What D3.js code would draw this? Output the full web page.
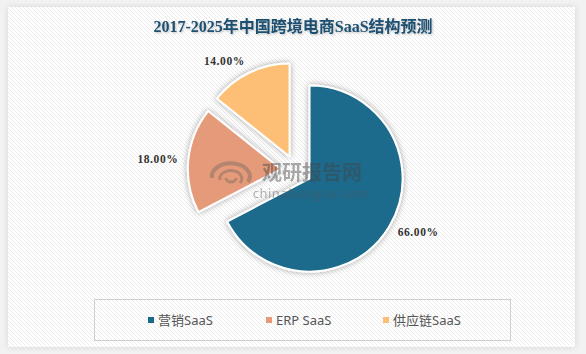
<!DOCTYPE html>
<html>
<head>
<meta charset="utf-8">
<script src="https://cdn.jsdelivr.net/npm/d3@7"></script>
<style>
html,body{margin:0;padding:0;background:#f2f2f2;}
svg{display:block;}
</style>
</head>
<body>
<svg id="chart" width="586" height="354"></svg>
<script>
const titleText = "2017-2025年中国跨境电商SaaS结构预测";
const categories = ["营销SaaS", "ERP SaaS", "供应链SaaS"];
const values = [66, 18, 14];
const colors = ["#1b6a8c", "#e59a7a", "#fdbf74"];

const W = 586, H = 354;
const svg = d3.select("#chart");
const defs = svg.append("defs");

// stripe pattern
const pat = defs.append("pattern").attr("id", "stripes")
  .attr("patternUnits", "userSpaceOnUse").attr("width", 4).attr("height", 4);
pat.append("rect").attr("width", 4).attr("height", 4).attr("fill", "#ffffff");
pat.append("path").attr("d", "M0,0 L4,4 M-1,3 L1,5 M3,-1 L5,1")
  .attr("stroke", "#ececec").attr("stroke-width", 1);

const frameShadow = defs.append("filter").attr("id", "frameShadow")
  .attr("x", "-5%").attr("y", "-5%").attr("width", "110%").attr("height", "110%");
frameShadow.append("feDropShadow").attr("dx", 0).attr("dy", 0)
  .attr("stdDeviation", 3).attr("flood-color", "#000").attr("flood-opacity", 0.12);

const sliceShadow = defs.append("filter").attr("id", "sliceShadow")
  .attr("x", "-30%").attr("y", "-30%").attr("width", "160%").attr("height", "160%");
sliceShadow.append("feDropShadow").attr("dx", 0).attr("dy", 0)
  .attr("stdDeviation", 3).attr("flood-color", "#000").attr("flood-opacity", 0.35);

const titleShadow = defs.append("filter").attr("id", "titleShadow");
titleShadow.append("feDropShadow").attr("dx", 1).attr("dy", 1)
  .attr("stdDeviation", 0.8).attr("flood-color", "#000").attr("flood-opacity", 0.25);

// background
svg.append("rect").attr("width", W).attr("height", H).attr("fill", "#f2f2f2");
svg.append("rect").attr("x", 8).attr("y", 7).attr("width", 567).attr("height", 340)
  .attr("fill", "url(#stripes)").attr("filter", "url(#frameShadow)");

// title
svg.append("text").attr("x", 293).attr("y", 26)
  .attr("text-anchor", "middle").attr("dominant-baseline", "central")
  .attr("font-family", "'Liberation Serif','Noto Sans CJK SC',serif")
  .attr("font-weight", "bold").attr("font-size", 16)
  .attr("fill", "#1d4f70").attr("filter", "url(#titleShadow)")
  .text(titleText);

// pie
const cx = 296.3, cy = 170.5, R = 93, off = 15.5;
const pie = d3.pie().sort(null).value(d => d)
  .startAngle(0).endAngle(2 * Math.PI);
const arcs = pie(values);
const arcGen = d3.arc().innerRadius(0).outerRadius(R);

const g = svg.append("g").attr("transform", `translate(${cx},${cy})`);
const sliceG = g.selectAll("g.slice").data(arcs).enter().append("g")
  .attr("class", "slice")
  .attr("transform", d => {
    const a = (d.startAngle + d.endAngle) / 2;
    return `translate(${off * Math.sin(a)},${-off * Math.cos(a)})`;
  });
sliceG.append("path").attr("d", arcGen)
  .attr("fill", (d, i) => colors[i])
  .attr("stroke", "#ffffff").attr("stroke-width", 2)
  .attr("stroke-linejoin", "round")
  .attr("filter", "url(#sliceShadow)");

// labels
const fmt = d3.format(".2f");
g.selectAll("text.lbl").data(arcs).enter().append("text")
  .attr("class", "lbl")
  .each(function (d) {
    const a = (d.startAngle + d.endAngle) / 2;
    const rr = off + R + 10;
    const x = rr * Math.sin(a), y = -rr * Math.cos(a);
    d3.select(this).attr("x", x).attr("y", y - (Math.cos(a) > 0.8 ? 3 : 0))
      .attr("text-anchor", Math.sin(a) >= 0 ? "start" : "end");
  })
  .attr("dominant-baseline", "central")
  .attr("font-family", "'Liberation Serif',serif")
  .attr("font-weight", "bold").attr("font-size", 11.5)
  .attr("letter-spacing", 0.6)
  .attr("fill", "#333")
  .text(d => fmt(d.data) + "%");

// watermark
const wm = svg.append("g").attr("opacity", 0.45);
wm.append("path")
  .attr("d", "M212,178 A19,13 0 1,1 248,182")
  .attr("fill", "none").attr("stroke", "#7a6a60").attr("stroke-width", 4);
wm.append("path")
  .attr("d", "M220,180 A11,8 0 1,1 240,183 M226,178 A5,4 0 1,0 236,178")
  .attr("fill", "none").attr("stroke", "#7a6a60").attr("stroke-width", 3);
wm.append("text").attr("x", 312).attr("y", 171)
  .attr("text-anchor", "middle").attr("dominant-baseline", "central")
  .attr("font-family", "'Noto Sans CJK SC',sans-serif").attr("font-weight", "bold")
  .attr("font-size", 20).attr("fill", "#444").text("观研报告网");
wm.append("text").attr("x", 311).attr("y", 193)
  .attr("text-anchor", "middle").attr("dominant-baseline", "central")
  .attr("font-family", "'Noto Sans',sans-serif")
  .attr("font-size", 13).attr("fill", "#555").attr("letter-spacing", 0.5)
  .text("chinabaogao.com");

// legend
svg.append("rect").attr("x", 94.5).attr("y", 299.5).attr("width", 416).attr("height", 41)
  .attr("fill", "none").attr("stroke", "#cfcfcf").attr("stroke-width", 1);
const legendX = [148, 266, 383];
const lg = svg.selectAll("g.leg").data(categories).enter().append("g")
  .attr("class", "leg")
  .attr("transform", (d, i) => `translate(${legendX[i]},320)`);
lg.append("rect").attr("x", 0).attr("y", -3).attr("width", 6).attr("height", 6)
  .attr("fill", (d, i) => colors[i]);
lg.append("text").attr("x", 10).attr("y", 0)
  .attr("dominant-baseline", "central")
  .attr("font-family", "'Noto Sans','Noto Sans CJK SC',sans-serif")
  .attr("font-size", 13).attr("fill", "#555")
  .text(d => d);
</script>
</body>
</html>
